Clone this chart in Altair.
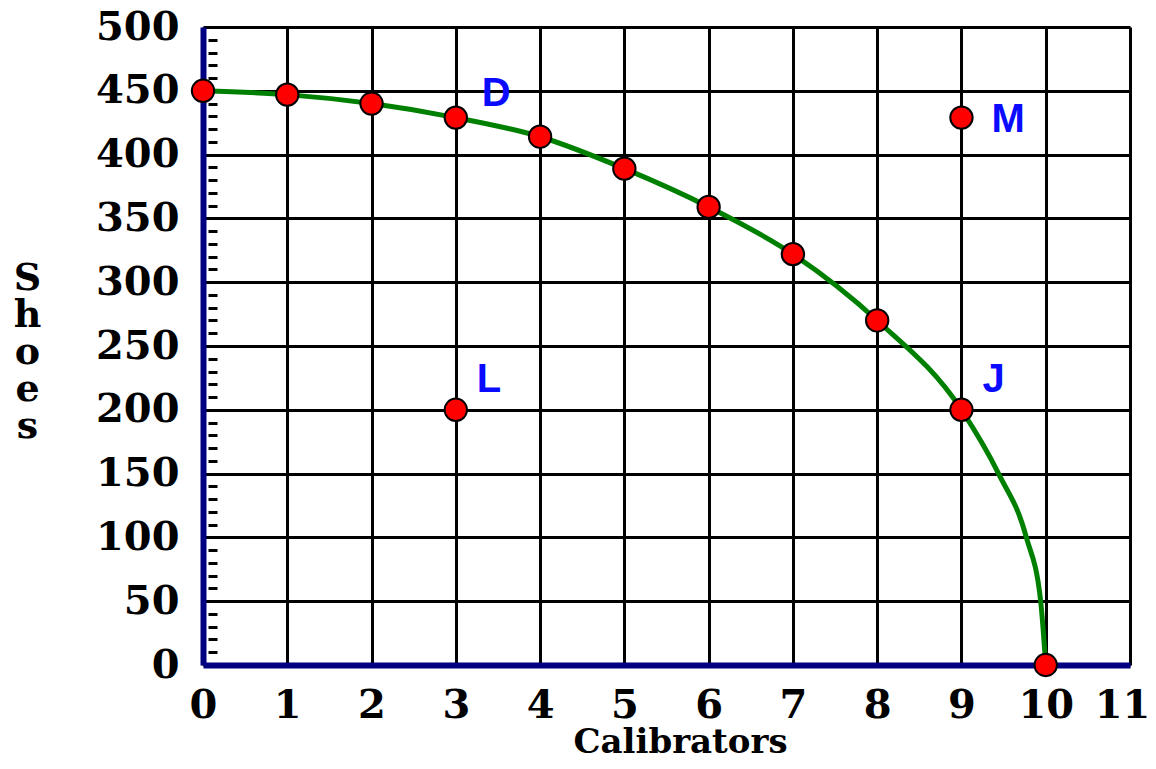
import altair as alt
import pandas as pd

# Production possibilities curve
curve_x = [0, 1, 2, 3, 4, 5, 6, 7, 8, 9, 9.44, 9.77, 9.94, 10]
curve_y = [450, 447, 440, 429, 414, 389, 359, 322, 270, 200, 150, 100, 50, 0]

# Red dots
dot_x = [0, 1, 2, 3, 4, 5, 6, 7, 8, 9, 10, 9, 3]
dot_y = [450, 447, 440, 429, 414, 389, 359, 322, 270, 200, 0, 429, 200]

# Letter labels
label_text = ["D", "M", "L", "J"]
label_x = [3, 9, 3, 9]
label_y = [429, 429, 200, 200]

x_ticks = list(range(0, 12))
y_ticks = list(range(0, 501, 50))
y_minor = [v for v in range(10, 500, 10) if v % 50 != 0]

curve_df = pd.DataFrame({"Calibrators": curve_x, "Shoes": curve_y})
dot_df = pd.DataFrame({"Calibrators": dot_x, "Shoes": dot_y})
label_df = pd.DataFrame({"label": label_text, "Calibrators": label_x, "Shoes": label_y})

SERIF = "DejaVu Serif"
NAVY = "#000080"

x_axis = alt.Axis(
    values=x_ticks, grid=True, gridColor="black", gridWidth=3, gridOpacity=1,
    ticks=False, domainColor=NAVY, domainWidth=6, domainOpacity=1,
    labelFont=SERIF, labelFontWeight="bold", labelFontSize=40, labelColor="black",
    labelPadding=20, labelFlush=False,
    labelOffset=alt.ExprRef(expr="datum.value == 11 ? -8 : 0"),
    title="Calibrators", titleFont=SERIF, titleFontWeight="bold", titleFontSize=34,
    titleColor="black", titleAnchor="start", titleAlign="center", titleBaseline="top",
    titleX=477, titleY=60,
)
X = alt.X("Calibrators:Q", scale=alt.Scale(domain=[0, 11], nice=False, zero=False), axis=x_axis)

y_main_axis = alt.Axis(
    values=y_ticks, grid=True, gridColor="black", gridWidth=3, gridOpacity=1,
    ticks=False, domainColor=NAVY, domainWidth=6, domainOpacity=1,
    labelFont=SERIF, labelFontWeight="bold", labelFontSize=40, labelColor="black",
    labelPadding=24, labelFlush=False,
    title=["S", "h", "o", "e", "s"], titleFont=SERIF, titleFontWeight="bold",
    titleFontSize=38, titleColor="black", titleAngle=0, titleAlign="center",
    titleBaseline="top", titleLineHeight=37, titleX=-176, titleY=232,
)
y_minor_axis = alt.Axis(
    values=y_minor, orient="left", offset=-14, grid=False, domain=False, labels=False,
    ticks=True, tickSize=9, tickWidth=3, tickColor="black", tickOpacity=1, title=None,
)
y_scale = alt.Scale(domain=[0, 500], nice=False, zero=False)

line = alt.Chart(curve_df).mark_line(color="#008000", strokeWidth=5, interpolate="monotone").encode(
    x=X, y=alt.Y("Shoes:Q", scale=y_scale, axis=y_main_axis)
)

dots = alt.Chart(dot_df).mark_point(
    filled=True, fill="#ff0000", stroke="black", strokeWidth=2, size=500, opacity=1, shape="circle"
).encode(
    x=X, y=alt.Y("Shoes:Q", scale=y_scale, axis=y_minor_axis)
)

offsets = {"D": (26, -12), "M": (30, 14), "L": (21, -18), "J": (21, -18)}
texts = []
for name in label_text:
    dx, dy = offsets[name]
    texts.append(
        alt.Chart(label_df).transform_filter(alt.datum.label == name).mark_text(
            font="Liberation Sans", fontWeight="bold", fontSize=40, color="#0a0aff",
            align="left", baseline="alphabetic", dx=dx, dy=dy,
        ).encode(
            x=X, y=alt.Y("Shoes:Q", scale=y_scale, axis=None), text="label:N"
        )
    )

chart = alt.layer(line, dots, *texts).resolve_axis(y="independent").properties(
    width=927, height=638,
    autosize=alt.AutoSizeParams(type="none"),
    padding={"left": 195, "top": 19, "right": 18, "bottom": 90},
    background="white",
).configure_view(stroke=None)

chart.save("out.html", embed_options={"renderer": "svg", "actions": False})
